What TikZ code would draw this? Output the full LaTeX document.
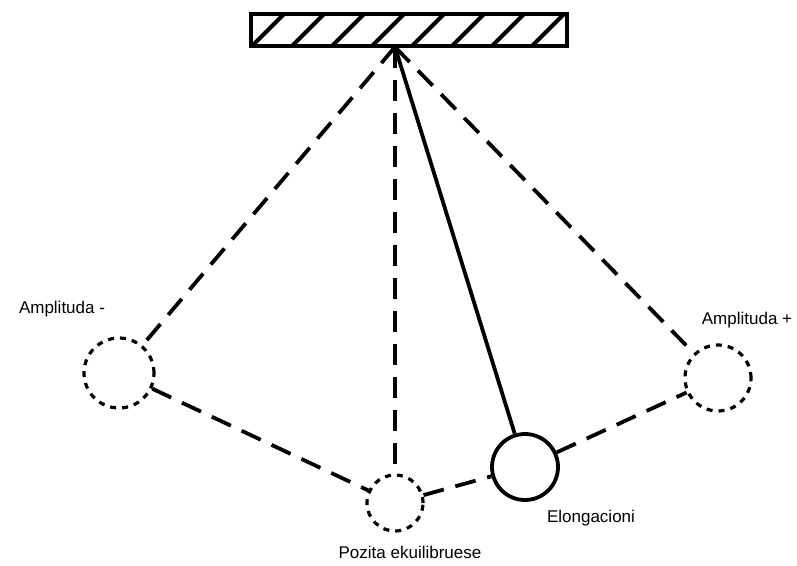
\documentclass[tikz,border=0pt]{standalone}
\usepackage{fontspec}
\setmainfont{Liberation Sans}
\begin{document}
\begin{tikzpicture}[x=1pt,y=-1pt,
  bob/.style={circle,inner sep=0pt,line width=3.2pt},
  dotbob/.style={bob,draw,dash pattern=on 6pt off 6pt},
  dashline/.style={line width=3.8pt,dash pattern=on 21pt off 12pt},
  lbl/.style={font=\fontsize{17}{19}\selectfont,inner sep=0pt}]
\useasboundingbox[fill=white] (0,0) rectangle (797,565);
% ceiling
\begin{scope}
\clip (251,14) rectangle (567,46);
\foreach \k in {0,...,8} {
  \draw[line width=4pt] (252+40*\k,46) -- (284+40*\k,14);
}
\end{scope}
\draw[line width=4pt] (251,14) rectangle (567,46);
\coordinate (P) at (395,47);
% bobs
\node[dotbob,minimum size=70pt] (L) at (119,373) {};
\node[dotbob,minimum size=66pt] (R) at (718,378) {};
\node[dotbob,minimum size=56pt] (B) at (395,503) {};
\node[bob,draw,line width=3.8pt,minimum size=66pt] (S) at (525,467) {};
% strings
\draw[dashline] (P) -- (L);
\draw[dashline] (P) -- (B);
\draw[dashline] (P) -- (R);
\draw[line width=3.8pt] (P) -- (S);
% path
\draw[dashline] (L) -- (B);
\draw[dashline] (B) -- (S);
\draw[dashline] (S) -- (R);
% labels
\node[lbl] (tL) at (62,309) {Amplituda -};
\node[lbl] (tR) at (747,320) {Amplituda +};
\node[lbl] (tS) at (591,518) {Elongacioni};
\node[lbl] (tB) at (410,552) {Pozita ekuilibruese};
\end{tikzpicture}
\end{document}
